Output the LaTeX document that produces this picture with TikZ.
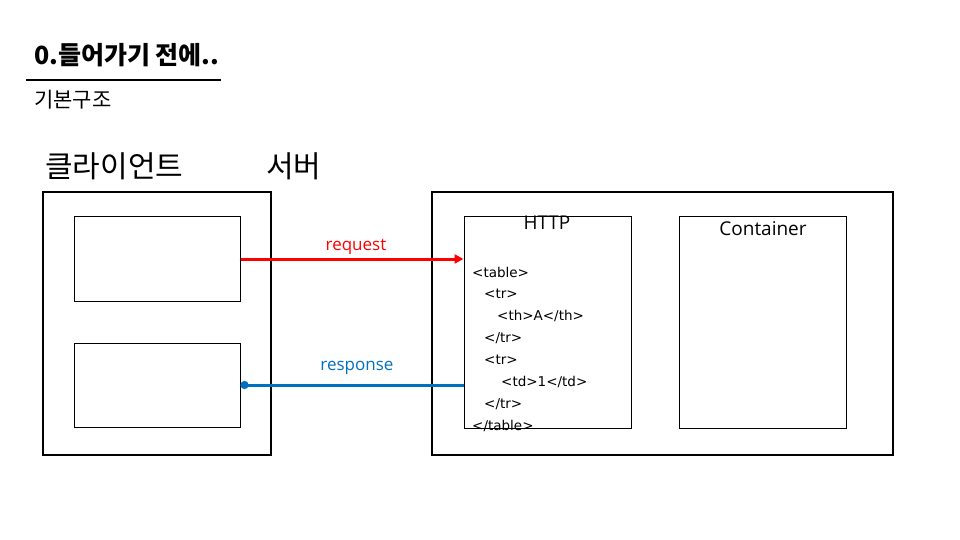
\documentclass[tikz,border=0pt]{standalone}
\usepackage{fontspec}
\setmainfont{Noto Sans CJK KR}
\newfontfamily\latinfont{Open Sans}
\newfontfamily\codefont{DejaVu Sans}
\usetikzlibrary{arrows.meta}
\definecolor{reqred}{RGB}{255,0,0}
\definecolor{resblue}{RGB}{0,112,192}
\begin{document}
\begin{tikzpicture}[x=1pt,y=-1pt,
  box/.style={draw=black,line width=1pt},
  outerbox/.style={draw=black,line width=1.6pt},
  code/.style={anchor=west,inner sep=0pt,font=\codefont\fontsize{13.5}{13.5}\selectfont},
  lbl/.style={inner sep=0pt,font=\latinfont\fontsize{17}{17}\selectfont}]
\useasboundingbox[fill=white] (0,0) rectangle (960,540);
\node[anchor=west,inner sep=0pt,font=\fontsize{25}{25}\selectfont\bfseries] (title) at (34,55) {0.들어가기 전에..};
\coordinate (ul1) at (26,80);
\coordinate (ul2) at (221,80);
\draw[line width=1.6pt] (ul1) -- (ul2);
\node[anchor=west,inner sep=0pt,font=\fontsize{21}{21}\selectfont] (sub) at (34,100) {기본구조};
\node[anchor=west,inner sep=0pt,font=\fontsize{30}{30}\selectfont] (client) at (45,166) {클라이언트};
\node[anchor=west,inner sep=0pt,font=\fontsize{30}{30}\selectfont] (server) at (266,166) {서버};
\draw[outerbox] (43,192) rectangle (271,455);
\node[box,minimum width=166pt,minimum height=85pt,inner sep=0pt] (c1) at (157,258.5) {};
\node[box,minimum width=166pt,minimum height=84pt,inner sep=0pt] (c2) at (157,385) {};
\draw[outerbox] (432,192) rectangle (893,455);
\node[box,minimum width=167pt,minimum height=212pt,inner sep=0pt] (http) at (547.5,322) {};
\node[box,minimum width=167pt,minimum height=212pt,inner sep=0pt] (cont) at (762.5,322) {};
\node[inner sep=0pt,font=\latinfont\fontsize{19}{19}\selectfont] (httpl) at (547,223) {HTTP};
\node[inner sep=0pt,font=\latinfont\fontsize{19}{19}\selectfont] (contl) at (763,229) {Container};
\draw[reqred,line width=3pt,-{Triangle[length=9pt,width=9pt]}] (c1.east |- 0,259) -- (http.west |- 0,259);
\node[lbl,text=reqred] (req) at (356,247) {request};
\draw[resblue,line width=3pt,-{Circle[length=8pt]}] (http.west |- 0,385) -- (c2.east |- 0,385);
\node[lbl,text=resblue] (res) at (357,368) {response};
\node[code] (l1) at (472,272) {<table>};
\node[code] (l2) at (484,294) {<tr>};
\node[code] (l3) at (497,316) {<th>A</th>};
\node[code] (l4) at (484,338) {</tr>};
\node[code] (l5) at (484,360) {<tr>};
\node[code] (l6) at (501,382) {<td>1</td>};
\node[code] (l7) at (484,404) {</tr>};
\node[code] (l8) at (472,426) {</table>};
\end{tikzpicture}
\end{document}
